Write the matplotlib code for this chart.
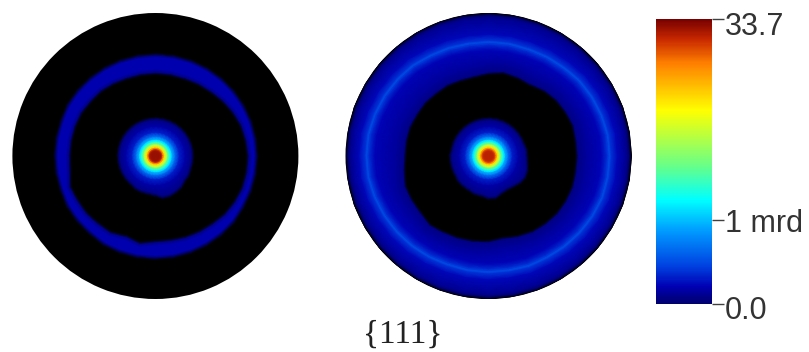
import matplotlib
matplotlib.use('Agg')
import matplotlib.pyplot as plt
import numpy as np
from matplotlib.cm import ScalarMappable
from matplotlib.colors import LinearSegmentedColormap, Normalize

W, H = 809, 352
DISC_R = 143  # disc radius, px

# colour scale (position on bar, colour)
bar_pos = [0.0, 0.06, 0.13, 0.25, 0.365, 0.48, 0.68, 0.845, 0.93, 1.0]
bar_rgb = ['#00006e', '#0000b4', '#0040e0', '#0096ff', '#00ffff', '#64ff8c', '#ffff00',
           '#ff8000', '#c82800', '#780000']
bar_ticks = [0.0, 0.295, 1.0]
bar_labels = ['0.0', '1 mrd', '33.7']
label_drop = [7, 4, 8]  # px the text sits below its tick

angles_deg = np.arange(0, 360, 10)

# central peak: radius (px) and position on the colour bar
peak_r = [0, 4, 6, 7.5, 9, 10.5, 12.5, 15, 17, 20, 24, 30]
peak_left = [.97, .97, .95, .85, .72, .62, .48, .36, .27, .18, .09, .05]
peak_right = [.94, .94, .92, .84, .72, .62, .48, .36, .27, .18, .09, .05]

# outer edge of the central blob for each angle (px)
blob_left = [36, 36, 36, 36, 36, 36, 36, 36, 36, 36, 36, 36, 36, 36, 36, 36, 36, 36,
             36, 36, 36, 36, 36, 36, 37, 37, 37, 38, 41, 41, 40, 39, 37, 37, 36, 36]
blob_right = [37, 37, 36, 36, 36, 36, 36, 36, 36, 36, 36, 36, 36, 36, 36, 36, 36, 36,
              37, 37, 37, 37, 38, 38, 38, 39, 39, 41, 41, 38, 37, 38, 40, 41, 40, 38]

# left figure: thin ring, inner and outer edge per angle (px)
ring_in_left = [94, 93, 92, 90, 88, 86, 85, 84, 84, 84, 84, 84, 85, 86, 86, 87, 87, 87,
                87, 88, 92, 91, 91, 90, 90, 87, 90, 87, 87, 88, 89, 90, 92, 93, 94, 94]
ring_out_left = [101, 101, 101, 101, 101, 101, 101, 101, 101, 101, 101, 101, 101, 101,
                 101, 101, 100, 100, 100, 100, 100, 101, 101, 101, 102, 102, 102, 102,
                 102, 102, 102, 102, 102, 101, 101, 101]
ring_val_left = .055

# right figure: black hole edge, and radius of the bright band per angle (px)
hole_right = [90, 90, 91, 90, 89, 87, 84, 85, 86, 84, 82, 82, 83, 83, 84, 84, 85, 85,
              85, 87, 90, 90, 90, 92, 90, 89, 88, 87, 85, 87, 89, 90, 91, 91, 91, 90]
band_right = [121, 121, 120, 119, 118, 116, 115, 114, 114, 114, 114, 115, 116, 118, 119,
              120, 121, 122, 122, 122, 121, 120, 119, 118, 117, 116, 116, 116, 116, 117,
              117, 118, 119, 120, 121, 121]

cmap = LinearSegmentedColormap.from_list('bar', list(zip(bar_pos, bar_rgb)))
cmap.set_under('black')
norm = Normalize(0, 1)


def disc_axes(fig, cx, cy):
    ax = fig.add_axes([(cx - DISC_R) / W, 1 - (cy + DISC_R) / H, 2 * DISC_R / W, 2 * DISC_R / H],
                      projection='polar')
    ax.set_facecolor('black')
    ax.set_ylim(0, DISC_R)
    ax.set_xticks([])
    ax.set_yticks([])
    ax.grid(False)
    ax.spines['polar'].set_visible(False)
    return ax


def draw_mesh(ax, radii, vals):
    # radii, vals: one row per angle; first row repeated to close the circle
    th = np.radians(np.append(angles_deg, 360))
    radii = np.vstack([radii, radii[0]])
    vals = np.vstack([vals, vals[0]])
    theta = np.repeat(th[:, None], radii.shape[1], axis=1)
    ax.pcolormesh(theta, radii, vals, shading='gouraud', cmap=cmap, norm=norm)


def blob_rows(blob, peak_vals):
    rs, vs = [], []
    for b in blob:
        rs.append(list(peak_r) + [b, b + 3])
        vs.append(list(peak_vals) + [.02, -1])
    return rs, vs


fig = plt.figure(figsize=(W / 100, H / 100), dpi=100)

# left pole figure
ax1 = disc_axes(fig, 155.4, 156)
rs, vs = blob_rows(blob_left, peak_left)
draw_mesh(ax1, np.array(rs, dtype=float), np.array(vs, dtype=float))
rs = []
vs = []
for ri, ro in zip(ring_in_left, ring_out_left):
    rs.append([ri - 3, ri, ri + 3, ro - 2, ro + 2])
    vs.append([-1, ring_val_left - .03, ring_val_left, ring_val_left, -1])
draw_mesh(ax1, np.array(rs, dtype=float), np.array(vs))

# right pole figure
ax2 = disc_axes(fig, 488.5, 156)
rs, vs = blob_rows(blob_right, peak_right)
draw_mesh(ax2, np.array(rs, dtype=float), np.array(vs, dtype=float))
rs = []
vs = []
for ho, ba in zip(hole_right, band_right):
    rs.append([ho - 3, ho, ho + 8, ba - 8, ba - 2, ba, ba + 2, ba + 8, 138, 141, 143])
    vs.append([-1, .02, .04, .065, .115, .145, .115, .07, .035, .0, -1])
draw_mesh(ax2, np.array(rs, dtype=float), np.array(vs))

# colour bar
cax = fig.add_axes([656 / W, 1 - 304 / H, 56 / W, 285 / H])
cb = fig.colorbar(ScalarMappable(norm=norm, cmap=cmap), cax=cax)
cb.outline.set_visible(False)
cb.set_ticks(bar_ticks)
cb.set_ticklabels(['', '', ''])
cax.tick_params(length=8.5, width=1, color='#404040', pad=0)
cax.minorticks_off()
for v, lab, d in zip(bar_ticks, bar_labels, label_drop):
    cax.annotate(lab, xy=(1, v), xycoords=('axes fraction', 'data'),
                 xytext=(9.5, -d * 0.72), textcoords='offset points',
                 va='center', ha='left', fontsize=22, color='#333333',
                 family='Liberation Sans', annotation_clip=False)

fig.text(403 / W, 1 - 335 / H, '{111}', family='Liberation Serif', fontsize=24,
         ha='center', va='center', color='#222222')

fig.savefig('out.png', dpi=100)
